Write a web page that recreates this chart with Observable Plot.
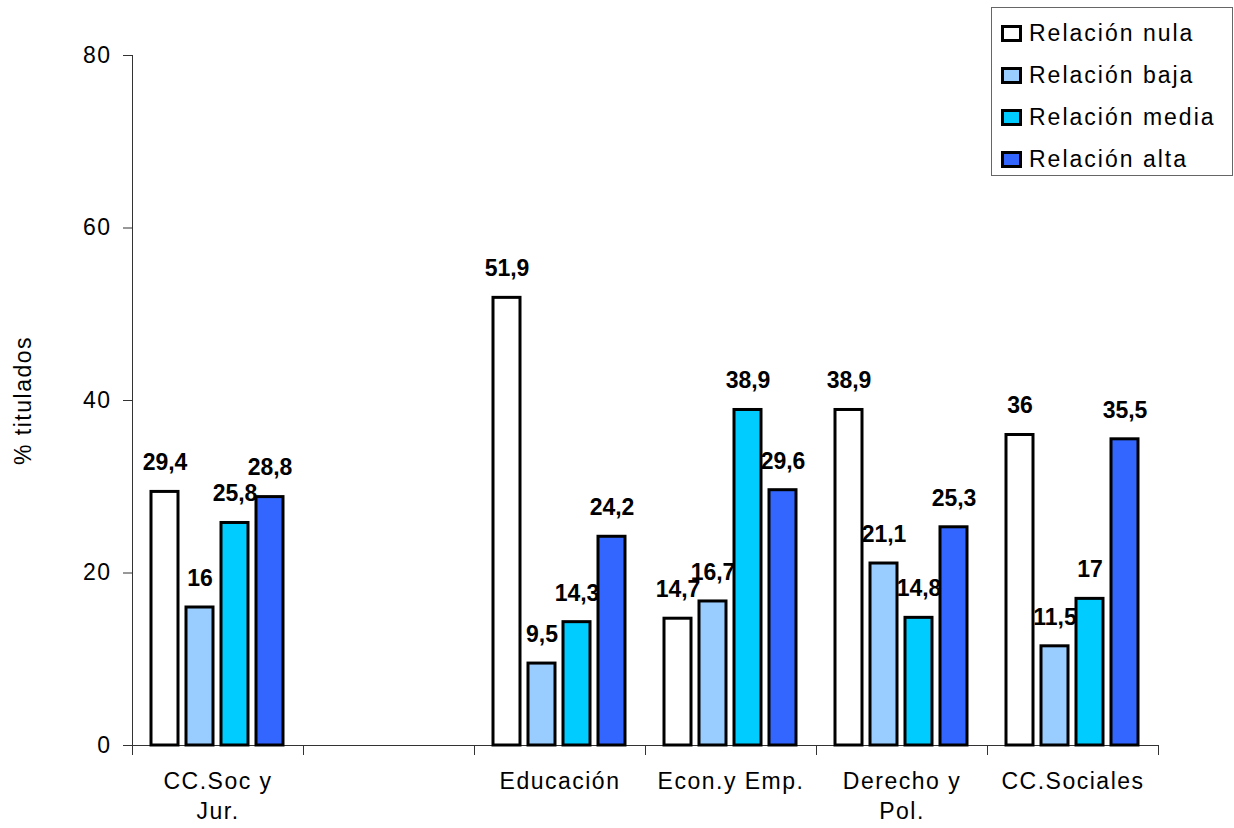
<!DOCTYPE html>
<html>
<head>
<meta charset="utf-8">
<script src="https://cdn.jsdelivr.net/npm/d3@7"></script>
<script src="https://cdn.jsdelivr.net/npm/@observablehq/plot@0.6"></script>
<style>
  html, body { margin: 0; padding: 0; background: #fff; }
  #wrap { position: relative; width: 1234px; height: 828px; }
  #wrap svg { display: block; }
  #wrap svg text { letter-spacing: 1.5px; }
  #wrap svg g[font-weight="bold"] text { letter-spacing: 0; }
  #legend {
    position: absolute; left: 991px; top: 7px; width: 242px; height: 169px;
    box-sizing: border-box; border: 1px solid #666; background: #fff;
    font-family: "Liberation Sans", Arial, sans-serif; font-size: 23px; letter-spacing: 2px;
  }
  .row { position: absolute; left: 9px; height: 24px; display: flex; align-items: center; }
  .sw { width: 21px; height: 17px; box-sizing: border-box; border: 3px solid #000; margin-right: 7px; }
</style>
</head>
<body>
<div id="wrap"><div id="legend"></div></div>
<script>
const categories = ["CC.Soc y Jur.", " ", "Educación", "Econ.y Emp.", "Derecho y Pol.", "CC.Sociales"];
const categoryLabels = ["CC.Soc y\nJur.", "", "Educación", "Econ.y Emp.", "Derecho y\nPol.", "CC.Sociales"];
const series = ["Relación nula", "Relación baja", "Relación media", "Relación alta"];
const colors = ["#FFFFFF", "#99CCFF", "#00CCFF", "#3366FF"];
const nula  = [29.4, null, 51.9, 14.7, 38.9, 36];
const baja  = [16,   null, 9.5,  16.7, 21.1, 11.5];
const media = [25.8, null, 14.3, 38.9, 14.8, 17];
const alta  = [28.8, null, 24.2, 29.6, 25.3, 35.5];
const yTicks = [0, 20, 40, 60, 80];

const seriesValues = [nula, baja, media, alta];
const data = [];
categories.forEach((c, i) => {
  series.forEach((s, j) => {
    const v = seriesValues[j][i];
    if (v != null) data.push({cat: c, series: s, value: v});
  });
});
const fmt = v => String(v).replace(".", ",");

const chart = Plot.plot({
  width: 1234,
  height: 828,
  marginLeft: 132,
  marginRight: 76,
  marginTop: 55,
  marginBottom: 83,
  style: {fontFamily: "'Liberation Sans', Arial, sans-serif", fontSize: "23px", background: "white", color: "black"},
  fx: {domain: categories, padding: 0, label: null},
  x: {domain: series, paddingInner: 0.225, paddingOuter: 0.521, axis: null},
  y: {domain: [0, 80]},
  color: {domain: series, range: colors},
  marks: [
    Plot.axisY({ticks: yTicks, tickSize: 9, tickPadding: 12, stroke: "#333", fontSize: 23,
      label: "% titulados", labelAnchor: "center", labelArrow: "none", labelOffset: 118}),
    Plot.axisFx({anchor: "bottom", tickSize: 0, tickPadding: 22, fontSize: 23, lineHeight: 1.3, label: null,
      tickFormat: d => categoryLabels[categories.indexOf(d)]}),
    Plot.ruleY(categories, {fx: d => d, y: () => 0, stroke: "#333"}),
    Plot.frame({anchor: "left", facetAnchor: "left", stroke: "#333"}),
    Plot.frame({anchor: "left", insetTop: 690, insetBottom: -9, stroke: "#333"}),
    Plot.frame({anchor: "right", insetTop: 690, insetBottom: -9, stroke: "#333"}),
    Plot.barY(data, {fx: "cat", x: "series", y: "value", fill: "series", stroke: "black", strokeWidth: 3}),
    Plot.text(data, {fx: "cat", x: "series", y: "value", text: d => fmt(d.value), dy: -29,
      fontWeight: "bold", fontSize: 23, fill: "black"})
  ]
});
document.getElementById("wrap").prepend(chart);

const legend = document.getElementById("legend");
series.forEach((s, i) => {
  const row = document.createElement("div");
  row.className = "row";
  row.style.top = (13 + i * 42) + "px";
  const sw = document.createElement("div");
  sw.className = "sw";
  sw.style.background = colors[i];
  const t = document.createElement("span");
  t.textContent = s;
  row.append(sw, t);
  legend.append(row);
});
</script>
</body>
</html>
